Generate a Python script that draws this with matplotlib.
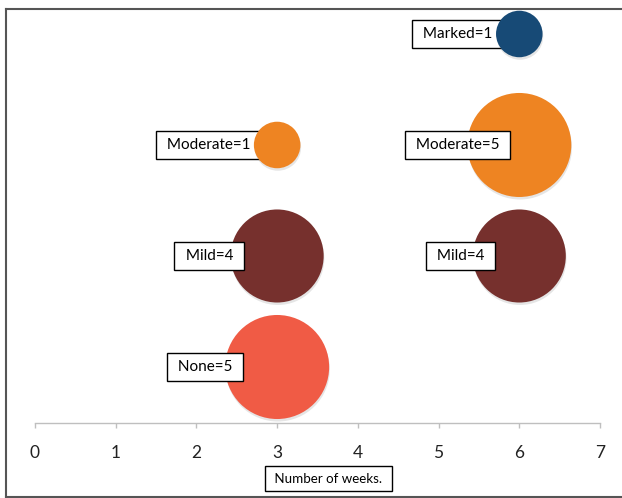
import matplotlib.pyplot as plt
import matplotlib.patheffects as pe
from matplotlib.lines import Line2D

# bubble data: week, severity level, count
weeks = [3, 3, 3, 6, 6, 6]
severity = ['None', 'Mild', 'Moderate', 'Mild', 'Moderate', 'Marked']
counts = [5, 4, 1, 4, 5, 1]
levels = {'None': 1, 'Mild': 2, 'Moderate': 3, 'Marked': 4}
colours = {'None': '#F05B45', 'Mild': '#76302D', 'Moderate': '#EE8422', 'Marked': '#174A76'}
xticks = [0, 1, 2, 3, 4, 5, 6, 7]

# label offset (pixels) of right edge of text from bubble centre,
# and whether the label box sits above the bubble
label_dx = [-41.2, -40.2, -22.5, -31.2, -16.2, -23]
label_on_top = [True, True, False, True, True, False]

plt.rcParams['font.family'] = ['Lato', 'DejaVu Sans']

fig = plt.figure(figsize=(6.22, 4.98), dpi=100)
ax = fig.add_axes([35 / 622, 75 / 498, 565 / 622, 414 / 498])

y = [levels[s] for s in severity]
c = [colours[s] for s in severity]
sizes = [n * 1122 for n in counts]

sc = ax.scatter(weeks, y, s=sizes, c=c, zorder=3, linewidths=0)
sc.set_path_effects([pe.SimplePatchShadow(offset=(0.5, -1.8), shadow_rgbFace='gray', alpha=0.2),
                     pe.Normal()])

for i in range(len(weeks)):
    ax.annotate(' %s=%d ' % (severity[i], counts[i]), (weeks[i], y[i]),
                xytext=(label_dx[i], 0), textcoords='offset pixels',
                ha='right', va='center', fontsize=11,
                zorder=4 if label_on_top[i] else 2,
                bbox=dict(boxstyle='square,pad=0.47', fc='white', ec='black', lw=1))

ax.set_xlim(0, 7)
ax.set_ylim(0.4955, 4.225)
ax.set_xticks(xticks)
ax.set_yticks([])
for s in ['left', 'right', 'top']:
    ax.spines[s].set_visible(False)
ax.spines['bottom'].set_color('#BFBFBF')
ax.spines['bottom'].set_linewidth(1)
ax.tick_params(axis='x', direction='out', length=3.6, color='#BFBFBF', width=1,
               labelsize=12.5, labelcolor='#222222', pad=12)
ax.patch.set_alpha(0)

# axis title in a box
fig.text(328.5 / 622, (498 - 478.5) / 498, ' Number of weeks. ', ha='center', va='center',
         fontsize=9.6, bbox=dict(boxstyle='square,pad=0.5', fc='white', ec='black', lw=1))

# outer frame
fx0, fy0, fy1 = 6 / 622, 1 / 498, (498 - 9) / 498
for xs, ys in [([fx0, fx0], [fy0, fy1]), ([fx0, 1.01], [fy1, fy1]), ([fx0, 1.01], [fy0, fy0])]:
    fig.add_artist(Line2D(xs, ys, transform=fig.transFigure, color='#555555', lw=1.5))

fig.savefig('out.png', dpi=100)
